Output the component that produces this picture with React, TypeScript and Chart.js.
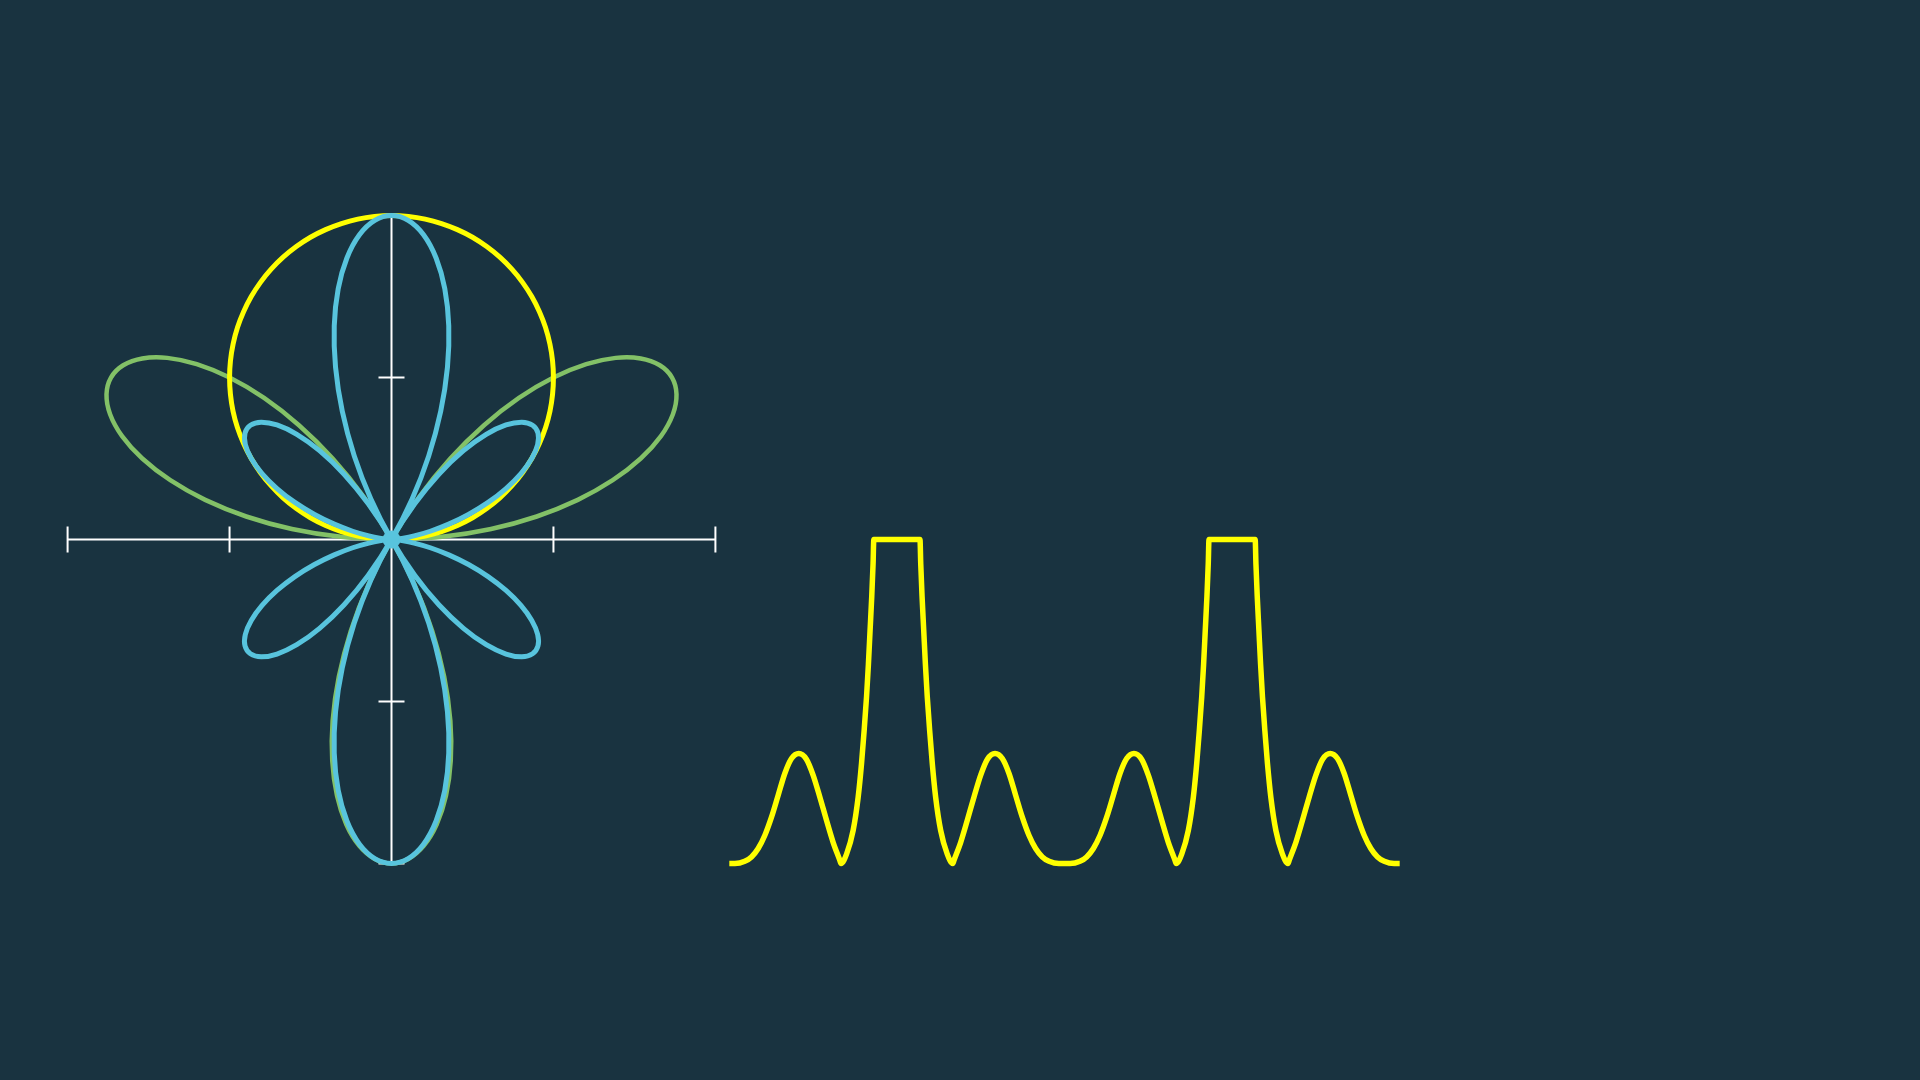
import { useEffect, useRef } from "react";
import { Chart, registerables } from "chart.js";

Chart.register(...registerables);

const BG = "#193340";
const BLUE = "#58C4DD";
const GREEN = "#83C167";
const YELLOW = "#FFFF00";

// polar graphs on the left: angle (degrees) -> radius
const fullTurn = [
  0, 3, 6, 9, 12, 15, 18, 21, 24, 27, 30, 33, 36, 39, 42, 45, 48, 51, 54, 57,
  60, 63, 66, 69, 72, 75, 78, 81, 84, 87, 90, 93, 96, 99, 102, 105, 108, 111, 114, 117,
  120, 123, 126, 129, 132, 135, 138, 141, 144, 147, 150, 153, 156, 159, 162, 165, 168, 171, 174, 177,
  180, 183, 186, 189, 192, 195, 198, 201, 204, 207, 210, 213, 216, 219, 222, 225, 228, 231, 234, 237,
  240, 243, 246, 249, 252, 255, 258, 261, 264, 267, 270, 273, 276, 279, 282, 285, 288, 291, 294, 297,
  300, 303, 306, 309, 312, 315, 318, 321, 324, 327, 330, 333, 336, 339, 342, 345, 348, 351, 354, 357,
  360,
];
const halfTurn = [
  0, 3, 6, 9, 12, 15, 18, 21, 24, 27, 30, 33, 36, 39, 42, 45, 48, 51, 54, 57,
  60, 63, 66, 69, 72, 75, 78, 81, 84, 87, 90, 93, 96, 99, 102, 105, 108, 111, 114, 117,
  120, 123, 126, 129, 132, 135, 138, 141, 144, 147, 150, 153, 156, 159, 162, 165, 168, 171, 174, 177,
  180,
];
// yellow circle
const circleR = [
  0, 0.105, 0.209, 0.313, 0.416, 0.518, 0.618, 0.717, 0.813, 0.908, 1, 1.089, 1.176, 1.259, 1.338, 1.414, 1.486, 1.554, 1.618, 1.677,
  1.732, 1.782, 1.827, 1.867, 1.902, 1.932, 1.956, 1.975, 1.989, 1.997, 2, 1.997, 1.989, 1.975, 1.956, 1.932, 1.902, 1.867, 1.827, 1.782,
  1.732, 1.677, 1.618, 1.554, 1.486, 1.414, 1.338, 1.259, 1.176, 1.089, 1, 0.908, 0.813, 0.717, 0.618, 0.518, 0.416, 0.313, 0.209, 0.105,
  0,
];
// green three-leaf rose
const roseR = [
  0, 0.313, 0.618, 0.908, 1.176, 1.414, 1.618, 1.782, 1.902, 1.975, 2, 1.975, 1.902, 1.782, 1.618, 1.414, 1.176, 0.908, 0.618, 0.313,
  0, -0.313, -0.618, -0.908, -1.176, -1.414, -1.618, -1.782, -1.902, -1.975, -2, -1.975, -1.902, -1.782, -1.618, -1.414, -1.176, -0.908, -0.618, -0.313,
  0, 0.313, 0.618, 0.908, 1.176, 1.414, 1.618, 1.782, 1.902, 1.975, 2, 1.975, 1.902, 1.782, 1.618, 1.414, 1.176, 0.908, 0.618, 0.313,
  0,
];
// blue six-leaf curve
const productR = [
  0, 0.016, 0.065, 0.142, 0.245, 0.366, 0.5, 0.639, 0.774, 0.897, 1, 1.076, 1.118, 1.121, 1.083, 1, 0.874, 0.706, 0.5, 0.263,
  0, -0.279, -0.565, -0.848, -1.118, -1.366, -1.583, -1.76, -1.892, -1.973, -2, -1.973, -1.892, -1.76, -1.583, -1.366, -1.118, -0.848, -0.565, -0.279,
  0, 0.263, 0.5, 0.706, 0.874, 1, 1.083, 1.121, 1.118, 1.076, 1, 0.897, 0.774, 0.639, 0.5, 0.366, 0.245, 0.142, 0.065, 0.016,
  0, 0.016, 0.065, 0.142, 0.245, 0.366, 0.5, 0.639, 0.774, 0.897, 1, 1.076, 1.118, 1.121, 1.083, 1, 0.874, 0.706, 0.5, 0.263,
  0, -0.279, -0.565, -0.848, -1.118, -1.366, -1.583, -1.76, -1.892, -1.973, -2, -1.973, -1.892, -1.76, -1.583, -1.366, -1.118, -0.848, -0.565, -0.279,
  0, 0.263, 0.5, 0.706, 0.874, 1, 1.083, 1.121, 1.118, 1.076, 1, 0.897, 0.774, 0.639, 0.5, 0.366, 0.245, 0.142, 0.065, 0.016,
  0,
];
const axisTicks = [-2, -1, 1, 2];

// graph on the right: angle (degrees) -> height, flat where it reaches the top
const sweepDeg = [
  0, 3, 8.3, 11.9, 15.5, 19.1, 22.7, 26.2, 29.8, 33.4, 37.3, 41.4, 45, 48.6, 52.2, 55.7, 59.3, 60,
  63, 66.5, 69.2, 71, 72.4, 73.7, 74.7, 75.6, 76.5, 77.2, 77.6,
  102.4, 102.8, 103.5, 104.4, 105.3, 106.3, 107.6, 109, 110.8, 113.5, 117,
  120, 120.7, 124.3, 127.8, 131.4, 135, 138.6, 142.7, 146.6, 150.2, 153.8, 157.3, 160.9, 164.5, 168.1, 171.7, 177, 180,
  183, 188.3, 191.9, 195.5, 199.1, 202.7, 206.2, 209.8, 213.4, 217.3, 221.4, 225, 228.6, 232.2, 235.7, 239.3, 240,
  243, 246.5, 249.2, 251, 252.4, 253.7, 254.7, 255.6, 256.5, 257.2, 257.6,
  282.4, 282.8, 283.5, 284.4, 285.3, 286.3, 287.6, 289, 290.8, 293.5, 297,
  300, 300.7, 304.3, 307.8, 311.4, 315, 318.6, 322.7, 326.6, 330.2, 333.8, 337.3, 340.9, 344.5, 348.1, 351.7, 357, 360,
];
const sweepVal = [
  0, 0, 0.014, 0.041, 0.093, 0.175, 0.288, 0.42, 0.556, 0.648, 0.679, 0.644, 0.546, 0.411, 0.267, 0.133, 0.022, 0,
  0.06, 0.205, 0.41, 0.617, 0.82, 1.03, 1.23, 1.44, 1.65, 1.85, 2,
  2, 1.85, 1.65, 1.44, 1.23, 1.03, 0.82, 0.617, 0.41, 0.205, 0.06,
  0, 0.022, 0.133, 0.267, 0.411, 0.546, 0.644, 0.679, 0.648, 0.556, 0.42, 0.288, 0.175, 0.093, 0.041, 0.014, 0, 0,
  0, 0.014, 0.041, 0.093, 0.175, 0.288, 0.42, 0.556, 0.648, 0.679, 0.644, 0.546, 0.411, 0.267, 0.133, 0.022, 0,
  0.06, 0.205, 0.41, 0.617, 0.82, 1.03, 1.23, 1.44, 1.65, 1.85, 2,
  2, 1.85, 1.65, 1.44, 1.23, 1.03, 0.82, 0.617, 0.41, 0.205, 0.06,
  0, 0.022, 0.133, 0.267, 0.411, 0.546, 0.644, 0.679, 0.648, 0.556, 0.42, 0.288, 0.175, 0.093, 0.041, 0.014, 0, 0,
];

const toXY = (deg: number[], r: number[]) =>
  deg.map((d, i) => {
    const a = (d * Math.PI) / 180;
    return { x: r[i] * Math.cos(a), y: r[i] * Math.sin(a) };
  });

// axes crossing at the origin, with ticks straddling the lines
const crossAxes = {
  id: "crossAxes",
  beforeDatasetsDraw(chart: any) {
    const { ctx, scales } = chart;
    const x = scales.x;
    const y = scales.y;
    const x0 = x.getPixelForValue(0);
    const y0 = y.getPixelForValue(0);
    const half = 13;
    ctx.save();
    ctx.strokeStyle = "#ffffff";
    ctx.lineWidth = 2;
    ctx.beginPath();
    ctx.moveTo(x.getPixelForValue(-2), y0);
    ctx.lineTo(x.getPixelForValue(2), y0);
    ctx.moveTo(x0, y.getPixelForValue(-2));
    ctx.lineTo(x0, y.getPixelForValue(2));
    for (const t of axisTicks) {
      const px = x.getPixelForValue(t);
      ctx.moveTo(px, y0 - half);
      ctx.lineTo(px, y0 + half);
      const py = y.getPixelForValue(t);
      ctx.moveTo(x0 - half, py);
      ctx.lineTo(x0 + half, py);
    }
    ctx.stroke();
    ctx.restore();
  },
};

const baseOptions = (xMin: number, xMax: number, yMin: number, yMax: number): any => ({
  animation: false,
  responsive: true,
  maintainAspectRatio: false,
  events: [],
  layout: { padding: 0, autoPadding: false },
  plugins: { legend: { display: false }, tooltip: { enabled: false } },
  scales: {
    x: { type: "linear", min: xMin, max: xMax, display: false },
    y: { type: "linear", min: yMin, max: yMax, display: false },
  },
});

const PolarPanel = () => {
  const chartRef = useRef<HTMLCanvasElement | null>(null);

  useEffect(() => {
    if (!chartRef.current) return;

    const curve = (data: { x: number; y: number }[], color: string, width: number, order: number) => ({
      data,
      borderColor: color,
      borderWidth: width,
      tension: 0.4,
      pointRadius: 0,
      fill: false,
      order,
    });

    const chartInstance = new Chart(chartRef.current, {
      type: "line",
      data: {
        datasets: [
          {
            data: [{ x: 0, y: 0 }],
            pointRadius: 9,
            pointBackgroundColor: BLUE,
            pointBorderWidth: 0,
            showLine: false,
            order: 0,
          },
          curve(toXY(fullTurn, productR), BLUE, 5, 1),
          curve(toXY(halfTurn, circleR), YELLOW, 5, 2),
          curve(toXY(halfTurn, roseR), GREEN, 4.5, 3),
        ],
      },
      options: baseOptions(-2.3, 2.3, -2.3, 2.3),
      plugins: [crossAxes],
    });

    return () => {
      chartInstance.destroy();
    };
  }, []);

  return (
    <div style={{ position: "absolute", left: 19, top: 167, width: 745, height: 745 }}>
      <canvas ref={chartRef}></canvas>
    </div>
  );
};

const SweepPanel = () => {
  const chartRef = useRef<HTMLCanvasElement | null>(null);

  useEffect(() => {
    if (!chartRef.current) return;

    const chartInstance = new Chart(chartRef.current, {
      type: "line",
      data: {
        datasets: [
          {
            data: sweepDeg.map((d, i) => ({ x: d, y: sweepVal[i] })),
            borderColor: YELLOW,
            borderWidth: 5.5,
            cubicInterpolationMode: "monotone",
            borderJoinStyle: "miter",
            pointRadius: 0,
            fill: false,
          },
        ],
      },
      options: baseOptions(-5, 365, -0.2, 2.2),
    });

    return () => {
      chartInstance.destroy();
    };
  }, []);

  return (
    <div style={{ position: "absolute", left: 720, top: 507, width: 689, height: 389 }}>
      <canvas ref={chartRef}></canvas>
    </div>
  );
};

export default function App() {
  return (
    <div style={{ position: "fixed", inset: 0, background: BG, overflow: "hidden" }}>
      <PolarPanel />
      <SweepPanel />
    </div>
  );
}
